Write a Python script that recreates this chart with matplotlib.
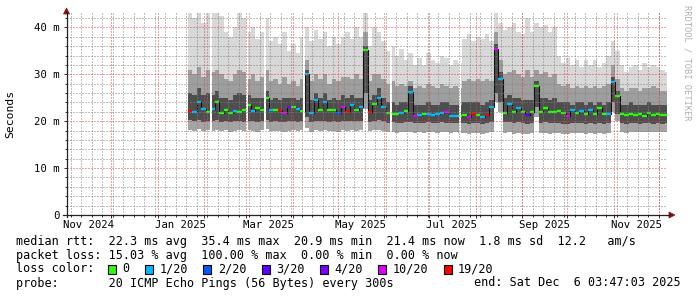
import matplotlib
matplotlib.use("Agg")
import matplotlib.pyplot as plt
import matplotlib.dates as mdates
import matplotlib.transforms as mtransforms
from matplotlib.patches import Rectangle, Polygon
from matplotlib.lines import Line2D
import numpy as np
from datetime import datetime, timedelta

# ---------------- data ----------------
range_start = datetime(2024, 11, 1, 3, 47, 3)
range_end = datetime(2025, 12, 6, 3, 47, 3)
bin_start = datetime(2025, 1, 20, 20, 0)
bin_days = 3

median_ms = [
    22.1, 22.0, 24.1, 22.5, 22.0, 22.5, 24.0, 21.8, 22.3, 21.7,
    22.2, 22.0, 22.3, 23.4, 22.2, 22.8, 22.4, 24.9, 22.3, 22.4,
    22.3, 21.8, 23.0, 23.0, 22.5, 22.2, 30.0, 21.8, 24.5, 22.3,
    24.0, 22.3, 22.3, 21.7, 23.0, 22.0, 23.4, 22.3, 23.0, 35.1,
    22.0, 23.6, 25.0, 23.0, 21.8, 21.6, 21.6, 21.8, 22.2, 26.2,
    21.2, 21.3, 21.5, 21.5, 21.4, 21.5, 21.7, 21.9, 21.2, 21.2,
    21.2, 21.3, 21.0, 21.5, 21.3, 20.9, 21.3, 23.0, 35.4, 29.0,
    21.8, 23.6, 22.0, 22.8, 22.0, 21.3, 21.9, 27.4, 22.0, 22.8,
    22.0, 22.0, 22.1, 21.8, 21.2, 22.3, 21.8, 22.2, 21.5, 22.3,
    21.6, 22.8, 21.5, 21.5, 28.4, 25.3, 21.5, 21.4, 21.6, 21.3,
    21.5, 21.2, 21.8, 21.3, 21.6, 21.3, 21.4,
]
loss_count = [
    19, 1, 1, 1, 0, 1, 0, 0, 0, 0,
    1, 0, 0, 0, 1, 0, 0, 0, 1, 0,
    19, 10, 4, 0, 1, 0, 1, 1, 1, 0,
    1, 0, 0, 2, 10, 19, 1, 0, 1, 0,
    19, 0, 1, 1, 0, 0, 0, 1, 0, 1,
    10, 1, 0, 1, 1, 1, 1, 10, 1, 1,
    0, 0, 10, 19, 0, 1, 19, 1, 10, 1,
    0, 1, 0, 1, 0, 3, 0, 0, 0, 0,
    0, 0, 0, 0, 10, 1, 0, 1, 0, 1,
    0, 0, 0, 1, 1, 0, 0, 0, 0, 0,
    0, 0, 0, 0, 0, 0, 0,
]
smoke_min = [
    18.2, 18.0, 18.3, 17.9, 18.1, 18.0, 18.2, 17.9, 18.1, 17.8,
    18.0, 18.2, 17.9, 18.1, 18.0, 17.8, 18.1, 18.3, 17.9, 18.0,
    17.9, 17.8, 18.0, 18.2, 17.9, 18.1, 18.5, 17.8, 18.1, 18.0,
    18.2, 17.9, 18.0, 17.8, 18.1, 18.0, 18.2, 18.0, 18.1, 22.5,
    17.9, 18.1, 18.2, 18.0, 17.6, 17.7, 17.5, 17.6, 17.7, 17.8,
    17.5, 17.6, 17.5, 17.7, 17.6, 17.5, 17.7, 17.6, 17.5, 17.6,
    17.5, 17.4, 17.3, 17.5, 17.4, 17.3, 17.5, 17.6, 24.0, 22.0,
    17.5, 17.6, 17.3, 17.5, 17.3, 17.2, 17.4, 21.0, 17.4, 17.5,
    17.3, 17.4, 17.4, 17.3, 17.3, 17.4, 17.5, 17.4, 17.3, 17.4,
    17.3, 17.5, 17.3, 17.4, 22.0, 20.0, 17.6, 17.5, 17.7, 17.6,
    17.6, 17.7, 17.8, 17.6, 17.7, 17.6, 17.7,
]
smoke_lo = [
    20.3, 20.0, 20.2, 19.9, 20.1, 20.0, 20.2, 19.9, 20.0, 19.8,
    20.0, 20.1, 19.9, 20.1, 20.0, 19.8, 20.0, 20.2, 19.9, 20.0,
    19.9, 19.8, 20.0, 20.1, 19.9, 20.0, 21.0, 19.8, 20.1, 20.0,
    20.1, 19.9, 20.0, 19.8, 20.1, 20.0, 20.1, 20.0, 20.1, 26.0,
    19.9, 20.1, 20.2, 20.0, 19.7, 19.8, 19.6, 19.7, 19.8, 19.8,
    19.6, 19.7, 19.6, 19.8, 19.7, 19.6, 19.8, 19.7, 19.6, 19.7,
    19.6, 19.7, 19.5, 19.7, 19.6, 19.5, 19.7, 19.8, 26.0, 24.0,
    19.8, 19.9, 19.6, 19.8, 19.6, 19.5, 19.7, 23.0, 19.7, 19.8,
    19.6, 19.7, 19.6, 19.5, 19.5, 19.6, 19.7, 19.6, 19.5, 19.6,
    19.5, 19.7, 19.5, 19.6, 24.0, 21.5, 19.6, 19.5, 19.7, 19.6,
    19.5, 19.6, 19.7, 19.5, 19.6, 19.5, 19.6,
]
smoke_h1 = [
    26.0, 25.5, 27.0, 25.5, 26.0, 25.5, 26.5, 25.0, 25.0, 24.5,
    25.5, 26.0, 25.5, 25.5, 25.0, 25.0, 25.0, 26.5, 24.5, 25.0,
    24.5, 25.0, 25.0, 25.0, 24.5, 25.0, 31.0, 24.5, 26.0, 25.0,
    26.0, 24.5, 25.0, 24.5, 25.5, 25.0, 25.5, 25.0, 25.0, 36.0,
    24.5, 25.5, 27.0, 25.0, 24.0, 24.0, 23.5, 24.0, 24.0, 27.5,
    23.5, 23.5, 23.5, 24.0, 23.5, 23.5, 24.0, 24.0, 23.5, 23.5,
    23.5, 24.0, 24.0, 24.0, 24.0, 23.5, 24.0, 24.5, 36.5, 30.5,
    25.0, 25.5, 25.0, 25.0, 24.5, 24.5, 24.5, 28.5, 25.0, 25.0,
    24.5, 25.0, 24.0, 24.0, 24.0, 23.5, 24.0, 24.0, 23.5, 24.0,
    23.5, 24.0, 23.5, 24.0, 29.5, 26.5, 23.5, 23.5, 24.0, 23.5,
    23.5, 23.5, 24.0, 23.5, 23.5, 23.5, 23.5,
]
smoke_h2 = [
    31.0, 30.0, 31.5, 29.5, 31.0, 30.5, 31.0, 30.0, 29.0, 28.5,
    30.0, 31.0, 30.5, 29.0, 30.0, 28.5, 29.5, 31.0, 28.5, 29.0,
    28.0, 29.5, 28.0, 28.5, 27.5, 29.0, 33.0, 28.5, 30.0, 29.0,
    30.0, 28.0, 29.0, 28.5, 29.5, 29.5, 29.0, 30.0, 29.0, 39.0,
    28.5, 30.0, 30.0, 29.0, 28.0, 28.5, 27.5, 28.0, 27.5, 28.5,
    27.0, 27.5, 27.0, 28.0, 27.5, 27.0, 28.0, 27.5, 27.0, 27.5,
    27.0, 28.5, 29.0, 28.5, 29.0, 28.5, 29.0, 28.5, 39.0, 33.0,
    30.0, 30.5, 31.0, 30.0, 29.5, 31.0, 29.5, 31.0, 30.0, 30.5,
    29.5, 30.0, 28.0, 27.5, 28.0, 27.0, 27.5, 27.0, 27.5, 27.0,
    27.5, 27.0, 27.5, 28.0, 32.0, 29.0, 27.0, 26.5, 27.0, 27.0,
    26.5, 27.0, 27.0, 27.5, 27.0, 26.5, 26.5,
]
smoke_max = [
    43.0, 42.0, 43.0, 41.0, 43.0, 43.0, 43.0, 42.5, 39.0, 38.0,
    40.0, 43.0, 42.0, 39.0, 40.0, 37.5, 39.0, 42.0, 37.0, 38.0,
    36.5, 39.0, 35.0, 36.5, 34.5, 38.0, 40.0, 37.0, 39.5, 37.5,
    39.0, 36.0, 38.0, 36.5, 38.0, 39.0, 37.5, 40.0, 38.0, 43.0,
    36.0, 40.0, 39.0, 37.0, 35.0, 36.0, 34.0, 35.5, 33.0, 34.5,
    32.0, 33.5, 32.0, 34.5, 33.0, 32.5, 34.0, 33.5, 32.0, 33.0,
    32.5, 37.5, 38.5, 37.0, 38.0, 37.5, 38.5, 37.0, 43.0, 41.0,
    39.5, 40.0, 41.0, 39.0, 38.5, 42.0, 39.0, 41.0, 40.0, 40.5,
    39.0, 40.0, 34.0, 32.5, 33.5, 32.0, 33.0, 31.5, 33.0, 32.0,
    33.0, 31.5, 32.5, 34.0, 37.0, 35.0, 32.0, 30.5, 31.5, 32.0,
    31.0, 32.5, 31.5, 32.0, 31.5, 31.0, 30.5,
]
gap_dates = [datetime(2025, 2, 5), datetime(2025, 3, 1), datetime(2025, 3, 13),
             datetime(2025, 4, 8), datetime(2025, 6, 5), datetime(2025, 7, 21)]

loss_classes = [0, 1, 2, 3, 4, 10, 19]
loss_labels = ["0", "1/20", "2/20", "3/20", "4/20", "10/20", "19/20"]
loss_colors = ["#26ff00", "#00b8ff", "#0059ff", "#5e00ff", "#7e00ff", "#dd00ff", "#ff0000"]

y_ticks = [0, 10, 20, 30, 40]
y_tick_labels = ["0", "10 m", "20 m", "30 m", "40 m"]
x_label_dates = [datetime(2024, 11, 16), datetime(2025, 1, 16), datetime(2025, 3, 16),
                 datetime(2025, 5, 16), datetime(2025, 7, 16), datetime(2025, 9, 16),
                 datetime(2025, 11, 16)]
x_labels = ["Nov 2024", "Jan 2025", "Mar 2025", "May 2025", "Jul 2025", "Sep 2025", "Nov 2025"]

legend_rtt = "median rtt:  22.3 ms avg  35.4 ms max  20.9 ms min  21.4 ms now  1.8 ms sd  12.2   am/s"
legend_loss = "packet loss: 15.03 % avg  100.00 % max  0.00 % min  0.00 % now"
legend_color = "loss color:"
legend_probe = "probe:       20 ICMP Echo Pings (56 Bytes) every 300s"
legend_end = "end: Sat Dec  6 03:47:03 2025"
y_title = "Seconds"
watermark = "RRDTOOL / TOBI OETIKER"

# ---------------- layout ----------------
W, H, DPI = 697, 297, 100
MONO = "DejaVu Sans Mono"
LEG_FS = 8.5
TICK_FS = 7.7
CW = 7.08  # legend character width in px

fig = plt.figure(figsize=(W / DPI, H / DPI), dpi=DPI, facecolor="white")
AX_L, AX_R, AX_T, AX_B = 66.5, 666.5, 13.0, 215.0
PX_PER_MS = 4.69
ax = fig.add_axes([AX_L / W, 1 - AX_B / H, (AX_R - AX_L) / W, (AX_B - AX_T) / H])
ax.set_xlim(mdates.date2num(range_start), mdates.date2num(range_end))
ax.set_ylim(0, (AX_B - AX_T) / PX_PER_MS)
for s in ax.spines.values():
    s.set_visible(False)
ax.set_facecolor("white")


def fx(x):
    return x / W


def fy(y):
    return 1 - y / H


n = len(median_ms)
edges = mdates.date2num([bin_start + timedelta(days=bin_days * i) for i in range(n + 1)])


def ext(a):
    a = np.asarray(a, float)
    return np.append(a, a[-1])


layers = [
    (smoke_min, smoke_lo, "#a4a4a4"),
    (smoke_lo, smoke_h1, "#4e4e4e"),
    (smoke_h1, smoke_h2, "#9e9e9e"),
    (smoke_h2, smoke_max, "#d8d8d8"),
]
for lo, hi, c in layers:
    ax.fill_between(edges, ext(lo), ext(hi), step="post", facecolor=c,
                    edgecolor="none", lw=0, antialiased=False, zorder=1)

# median line
ax.step(edges, ext(median_ms), where="post", color="#111111", lw=0.8, zorder=2)
cmap = dict(zip(loss_classes, loss_colors))
ax.hlines(median_ms, edges[:-1], edges[1:], colors=[cmap[l] for l in loss_count],
          lw=1.7, zorder=2.5)

# unknown data gaps
for g in gap_dates:
    ax.axvspan(mdates.date2num(g), mdates.date2num(g + timedelta(days=1)),
               facecolor="white", edgecolor="none", lw=0, zorder=3)

# grid (dotted, drawn on top like rrdtool)
minor_c = (0.5, 0.5, 0.5, 0.5)
major_c = (0.9, 0.25, 0.25, 0.5)
dots = (0, (1.39, 1.39))
weeks = []
d = datetime(2024, 11, 4)
while d < range_end:
    weeks.append(mdates.date2num(d))
    d += timedelta(days=7)
months = []
m = datetime(2024, 12, 1)
while m < range_end:
    months.append(mdates.date2num(m))
    m = datetime(m.year + (m.month // 12), m.month % 12 + 1, 1)
for w in weeks:
    ax.axvline(w, color=minor_c, lw=0.72, ls=dots, zorder=4, antialiased=False)
for mm in months:
    ax.axvline(mm, color=major_c, lw=0.72, ls=dots, zorder=4.1, antialiased=False)
for v in range(2, 44, 2):
    if v % 10:
        ax.axhline(v, color=minor_c, lw=0.72, ls=dots, zorder=4, antialiased=False)
    else:
        ax.axhline(v, color=major_c, lw=0.72, ls=dots, zorder=4.1, antialiased=False)

# ticks
ax.set_xticks(months)
ax.set_xticklabels([])
ax.set_xticks(weeks, minor=True)
ax.set_yticks(y_ticks)
ax.set_yticklabels(y_tick_labels, family=MONO, fontsize=TICK_FS)
ax.set_yticks(range(2, 44, 2), minor=True)
ax.tick_params(which="major", direction="out", length=2.2, width=0.72, color="#333333", pad=2.6)
ax.tick_params(which="minor", direction="out", length=1.1, width=0.72, color="#333333")

trans = mtransforms.blended_transform_factory(ax.transData, fig.transFigure)
for dte, lab in zip(x_label_dates, x_labels):
    ax.text(mdates.date2num(dte), fy(225), lab, transform=trans, ha="center", va="center",
            fontsize=TICK_FS, family=MONO, clip_on=False)

# axes lines and arrows
axis_c = "#222222"
fig.add_artist(Line2D([fx(AX_L), fx(AX_L)], [fy(217), fy(12)], color=axis_c, lw=0.9))
fig.add_artist(Line2D([fx(63), fx(670)], [fy(AX_B), fy(AX_B)], color=axis_c, lw=0.9))
arrow_c = "#8b1010"
fig.add_artist(Polygon([(fx(AX_L - 3), fy(14)), (fx(AX_L + 3), fy(14)), (fx(AX_L), fy(8))],
                       closed=True, facecolor=arrow_c, edgecolor=arrow_c, lw=0.5))
fig.add_artist(Polygon([(fx(669), fy(AX_B - 3)), (fx(669), fy(AX_B + 3)), (fx(675), fy(AX_B))],
                       closed=True, facecolor=arrow_c, edgecolor=arrow_c, lw=0.5))

# y title
fig.text(fx(10), fy(114), y_title, rotation=90, ha="center", va="center",
         fontsize=8.2, family=MONO)

# watermark
fig.text(fx(687), fy(5), watermark, rotation=270, ha="center", va="top",
         fontsize=6.3, family=MONO, color="#b0b0b0")

# legend
fig.text(fx(16), fy(241), legend_rtt, ha="left", va="center", fontsize=LEG_FS, family=MONO)
fig.text(fx(16), fy(255), legend_loss, ha="left", va="center", fontsize=LEG_FS, family=MONO)
fig.text(fx(16), fy(269), legend_color, ha="left", va="center", fontsize=LEG_FS, family=MONO)
x = 16 + 13 * CW
for lab, col in zip(loss_labels, loss_colors):
    fig.add_artist(Rectangle((fx(x), fy(269 + 4.5)), 8 / W, 9 / H, facecolor=col,
                             edgecolor="black", lw=0.8))
    fig.text(fx(x + 2 * CW), fy(269), lab, ha="left", va="center", fontsize=LEG_FS, family=MONO)
    x += (4.24 + len(lab)) * CW
fig.text(fx(16), fy(283), legend_probe, ha="left", va="center", fontsize=LEG_FS, family=MONO)
fig.text(fx(681), fy(283), legend_end, ha="right", va="center", fontsize=LEG_FS, family=MONO)

fig.savefig("out.png", dpi=DPI, facecolor="white")
